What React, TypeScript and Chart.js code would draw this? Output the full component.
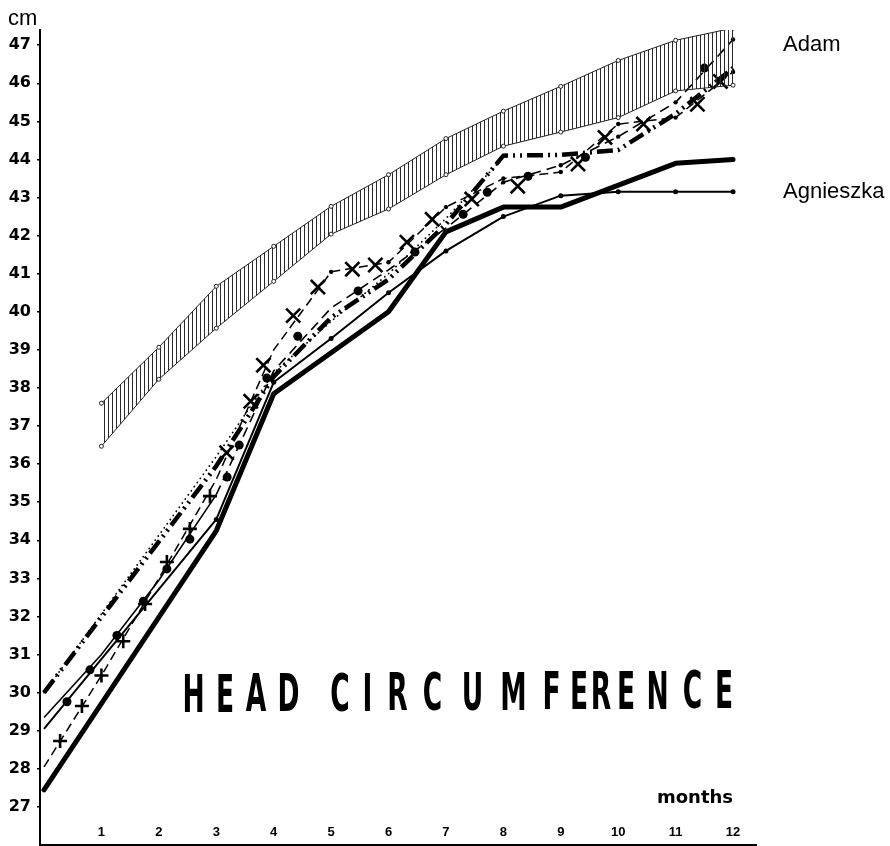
import React, { useEffect, useRef } from 'react';
import { Chart, registerables } from 'chart.js';

Chart.register(...registerables);

// ---- tick labels ----
const monthTicks = [1, 2, 3, 4, 5, 6, 7, 8, 9, 10, 11, 12];
const cmTicks = [27, 28, 29, 30, 31, 32, 33, 34, 35, 36, 37, 38, 39, 40, 41, 42, 43, 44, 45, 46, 47];

// ---- reference band (hatched) ----
const bandMonths = [1, 2, 3, 4, 5, 6, 7, 8, 9, 10, 11, 12];
const bandUpper = [37.6, 39.07, 40.67, 41.72, 42.77, 43.6, 44.55, 45.27, 45.92, 46.6, 47.13, 47.45];
const bandLower = [36.47, 38.23, 39.57, 40.8, 42.04, 42.7, 43.6, 44.35, 44.72, 45.1, 45.8, 45.95];

// ---- thick solid line ----
const thickMonths = [0, 3, 4, 6, 7, 8, 9, 11, 12];
const thickValues = [27.45, 34.25, 37.85, 40.0, 42.1, 42.75, 42.75, 43.9, 44.0];

// ---- thin solid line (Agnieszka) ----
const agnMonths = [0, 3, 4, 5, 6, 7, 8, 9, 10, 11, 12];
const agnValues = [29.05, 34.55, 38.15, 39.3, 40.5, 41.6, 42.5, 43.05, 43.15, 43.15, 43.15];

// ---- thick dash-dot line ----
const dashMonths = [0, 3, 4, 5, 6, 7, 8, 9, 10, 11, 12];
const dashValues = [30.0, 35.95, 38.3, 39.85, 40.85, 42.3, 44.1, 44.12, 44.25, 45.2, 46.4];

// ---- dotted line ----
const dotMonths = [0, 3, 4, 5, 6, 7, 8];
const dotValues = [30.0, 36.2, 38.4, 39.75, 41.0, 42.45, 44.05];

// ---- dashed line with crosses ----
const crossMonths = [0, 1, 2, 3, 4, 5, 6, 7, 8, 9, 10, 11, 12];
const crossValues = [28.05, 30.45, 33.0, 35.6, 39.0, 41.05, 41.3, 42.75, 43.5, 43.67, 44.93, 45.1, 46.3];
const crossMarkMonths = [0.28, 0.66, 1.0, 1.38, 1.76, 2.14, 2.54, 2.89, 3.18, 3.6, 3.82, 4.34, 4.77, 5.37, 5.77, 6.32, 6.76, 7.45, 8.25, 9.3, 9.77, 10.44, 11.38, 11.78];
const crossMarkValues = [28.73, 29.65, 30.45, 31.35, 32.33, 33.43, 34.3, 35.16, 36.3, 37.65, 38.6, 39.9, 40.65, 41.12, 41.23, 41.83, 42.43, 42.96, 43.3, 43.88, 44.58, 44.93, 45.45, 46.05];

// ---- line with big dots (Adam) ----
const adamMonths = [0, 1, 2, 3, 4, 5, 6, 7, 8, 9, 10, 11, 12];
const adamValues = [29.35, 31.0, 32.95, 35.2, 38.45, 40.1, 41.1, 42.2, 43.4, 43.85, 44.6, 45.5, 47.15];
const adamMarkMonths = [0.4, 0.8, 1.27, 1.73, 2.14, 2.54, 3.19, 3.4, 3.88, 4.42, 5.47, 6.46, 7.3, 7.72, 8.43, 9.43, 11.5];
const adamMarkValues = [29.76, 30.6, 31.5, 32.4, 33.25, 34.03, 35.66, 36.5, 38.26, 39.36, 40.55, 41.57, 42.56, 43.14, 43.56, 44.06, 46.4];

const pts = (m: number[], v: number[]) => m.map((x, i) => ({ x, y: v[i] }));

export default function App() {
  const ref = useRef<HTMLCanvasElement>(null);

  useEffect(() => {
    const canvas = ref.current as HTMLCanvasElement;
    const pc = document.createElement('canvas');
    pc.width = 4;
    pc.height = 4;
    const pctx = pc.getContext('2d') as CanvasRenderingContext2D;
    pctx.fillStyle = '#2a2a2a';
    pctx.fillRect(0, 0, 1, 4);
    const hatch = (canvas.getContext('2d') as CanvasRenderingContext2D).createPattern(pc, 'repeat');

    const textPlugin = {
      id: 'annotText',
      afterDraw(chart: any) {
        const c = chart.ctx as CanvasRenderingContext2D;
        c.save();
        c.fillStyle = '#000';
        c.textBaseline = 'alphabetic';
        c.textAlign = 'left';
        c.font = '22px "Liberation Sans"';
        c.fillText('cm', 8, 25);
        c.fillText('Adam', 783, 51);
        c.fillText('Agnieszka', 783, 198);
        c.font = 'bold 18px "DejaVu Sans"';
        c.fillText('months', 657, 803);

        const title = 'HEAD CIRCUMFERENCE';
        const centers = [193.5, 225, 256, 288.5, 0, 340, 367.5, 397.5, 432.5, 472.5, 513.5, 551.5, 579, 601, 626, 657.5, 692.5, 724];
        c.font = 'bold 51px "DejaVu Sans"';
        c.textAlign = 'center';
        for (let i = 0; i < title.length; i++) {
          const ch = title[i];
          if (ch === ' ') continue;
          const cx = centers[i];
          const base = 712 - ((cx - 183) / 552) * 4;
          c.save();
          c.translate(cx, base);
          c.scale(0.52, 1);
          c.fillText(ch, 0, 0);
          c.restore();
        }
        c.restore();
      },
    };

    const black = '#000';
    const chart = new Chart(canvas, {
      type: 'line',
      data: {
        datasets: [
          { data: pts(bandMonths, bandLower), borderColor: '#222', borderWidth: 1, pointRadius: 2, pointBackgroundColor: '#fff', pointBorderColor: '#222', pointBorderWidth: 1, fill: false },
          { data: pts(bandMonths, bandUpper), borderColor: '#222', borderWidth: 1, pointRadius: 2, pointBackgroundColor: '#fff', pointBorderColor: '#222', pointBorderWidth: 1, fill: '-1', backgroundColor: hatch as any },
          { data: pts(thickMonths, thickValues), borderColor: black, borderWidth: 5, borderCapStyle: 'round', borderJoinStyle: 'round', pointRadius: 0 },
          { data: pts(agnMonths, agnValues), borderColor: black, borderWidth: 2, borderJoinStyle: 'round', pointRadius: (ctx: any) => (ctx.dataIndex === 0 ? 0 : 2.5), pointBackgroundColor: black, pointBorderWidth: 0 },
          { data: pts(dashMonths, dashValues), borderColor: black, borderWidth: 4.5, borderDash: [16, 5, 2, 5, 2, 5], pointRadius: 0 },
          { data: pts(dotMonths, dotValues), borderColor: black, borderWidth: 1.8, borderCapStyle: 'round', borderDash: [0.1, 5], pointRadius: 0 },
          { data: pts(crossMonths, crossValues), borderColor: black, borderWidth: 1.5, borderDash: [9, 5], pointRadius: (ctx: any) => (ctx.dataIndex >= 5 ? 2.2 : 0), pointBackgroundColor: black, pointBorderWidth: 0 },
          {
            data: pts(crossMarkMonths, crossMarkValues), showLine: false, borderColor: black,
            pointStyle: (ctx: any) => (ctx.raw && ctx.raw.x < 3 ? 'cross' : 'crossRot'),
            pointRadius: (ctx: any) => (ctx.raw && ctx.raw.x < 3 ? 7 : 10),
            pointBorderColor: black, pointBorderWidth: 2.6,
          },
          {
            data: pts(adamMonths, adamValues), borderColor: black, borderWidth: 1.6,
            segment: { borderDash: (ctx: any) => (ctx.p0.parsed.x >= 2.5 ? [10, 6] : undefined) },
            pointRadius: (ctx: any) => (ctx.dataIndex >= 8 ? 2.2 : 0), pointBackgroundColor: black, pointBorderWidth: 0,
          },
          { data: pts(adamMarkMonths, adamMarkValues), showLine: false, pointStyle: 'circle', pointRadius: 4.5, pointBackgroundColor: black, pointBorderWidth: 0 },
        ] as any,
      },
      options: {
        responsive: false,
        devicePixelRatio: 1,
        animation: false,
        events: [],
        layout: { autoPadding: false, padding: { left: 0, top: 30, right: 134, bottom: 0 } },
        elements: { line: { tension: 0 } },
        plugins: { legend: { display: false }, tooltip: { enabled: false }, title: { display: false } },
        scales: {
          x: {
            type: 'linear', min: -0.07, max: 12.4,
            afterBuildTicks: (s: any) => { s.ticks = monthTicks.map((v) => ({ value: v })); },
            afterFit: (s: any) => { s.height = 1; s.paddingLeft = 0; s.paddingRight = 0; },
            grid: { display: false },
            border: { display: true, color: black, width: 2 },
            ticks: { mirror: true, padding: 5, autoSkip: false, maxRotation: 0, minRotation: 0, color: black, font: { family: 'Liberation Sans', size: 13, weight: 'bold' }, callback: (v: any) => String(v) },
          },
          y: {
            type: 'linear', min: 26, max: 47.4,
            afterBuildTicks: (s: any) => { s.ticks = cmTicks.map((v) => ({ value: v })); },
            afterFit: (s: any) => { s.width = 40; s.paddingTop = 0; s.paddingBottom = 0; },
            grid: { display: true, drawOnChartArea: false, drawTicks: true, tickLength: 3, color: black, lineWidth: 1.5 },
            border: { display: true, color: black, width: 2 },
            ticks: { padding: 6, autoSkip: false, color: black, font: { family: 'DejaVu Sans', size: 16, weight: 'bold' }, callback: (v: any) => String(v) },
          },
        },
      } as any,
      plugins: [textPlugin],
    });
    return () => chart.destroy();
  }, []);

  return (
    <div style={{ position: 'fixed', left: 0, top: 0, width: 890, height: 846, background: '#fff' }}>
      <canvas ref={ref} width={890} height={846} style={{ display: 'block', width: 890, height: 846 }} />
    </div>
  );
}
